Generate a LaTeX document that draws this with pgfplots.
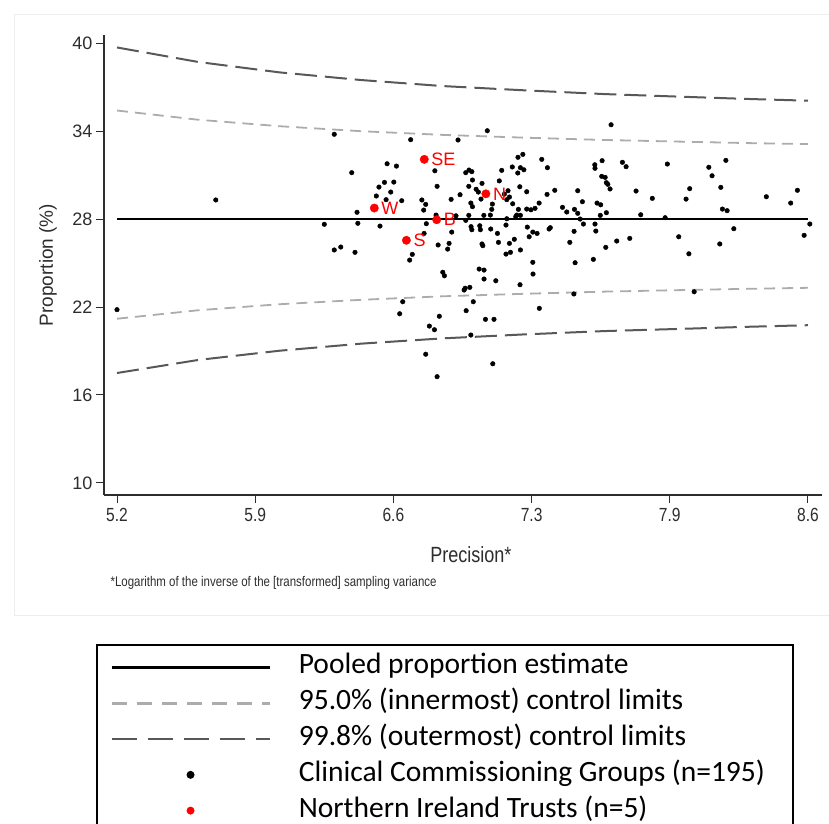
\documentclass[border=0pt]{standalone}
\usepackage{fontspec}
\setmainfont{Liberation Sans}
\newfontfamily\narrowfont{Liberation Sans}[FakeStretch=0.82]
\newfontfamily\legendfont{Carlito}
\usepackage{pgfplots}
\usepackage{pgfplotstable}
\pgfplotsset{compat=1.18}

\definecolor{cilight}{RGB}{172,172,172}
\definecolor{cidark}{RGB}{88,88,88}
\definecolor{nired}{RGB}{255,0,0}
\definecolor{axisgray}{RGB}{45,45,45}

% funnel limits
\pgfplotstableread{
x     up95   lo95   up998  lo998
5.2   35.40  21.20  39.70  17.50
5.6   34.77  21.78  38.71  18.39
6.0   34.33  22.19  38.00  19.02
6.4   33.99  22.49  37.48  19.50
6.8   33.74  22.73  37.07  19.86
7.2   33.55  22.90  36.78  20.13
7.6   33.39  23.05  36.52  20.36
8.0   33.27  23.16  36.33  20.52
8.3   33.18  23.24  36.19  20.65
8.6   33.11  23.31  36.07  20.76
}\limits

% Northern Ireland trusts
\pgfplotstableread{
x      y      lab
6.712  32.07  SE
6.466  28.75  W
6.773  27.95  B
6.624  26.55  S
7.015  29.72  N
}\trusts

% Clinical Commissioning Groups
\pgfplotstableread{
x      y
5.200  21.82
5.686  29.30
6.220  27.64
6.269  33.78
6.269  25.89
6.301  26.09
6.355  31.16
6.371  25.73
6.381  28.46
6.385  27.71
6.476  29.57
6.489  30.18
6.494  27.52
6.516  30.50
6.524  29.32
6.529  31.77
6.547  29.84
6.562  30.52
6.575  31.61
6.591  21.54
6.601  29.25
6.606  22.36
6.640  25.20
6.645  33.41
6.653  25.59
6.700  29.30
6.709  28.61
6.711  27.02
6.719  29.00
6.719  18.78
6.722  27.68
6.737  20.70
6.762  20.45
6.764  31.29
6.770  28.27
6.775  30.23
6.775  17.25
6.780  26.23
6.786  21.37
6.803  24.37
6.811  24.13
6.827  25.95
6.834  26.34
6.844  29.34
6.847  27.11
6.868  28.22
6.878  33.39
6.888  29.66
6.908  23.16
6.913  23.28
6.916  31.16
6.916  27.91
6.918  21.75
6.931  30.23
6.931  28.25
6.932  31.34
6.936  23.34
6.941  29.09
6.941  20.09
6.942  27.48
6.946  31.23
6.946  27.27
6.949  30.66
6.949  28.84
6.953  22.36
6.967  30.03
6.978  29.84
6.982  24.59
6.985  27.54
6.988  27.27
6.991  29.36
6.996  30.43
6.996  26.30
7.000  26.18
7.005  28.25
7.006  24.52
7.006  23.91
7.013  21.16
7.022  34.02
7.037  28.27
7.039  27.32
7.044  28.66
7.047  29.02
7.049  18.13
7.055  21.16
7.064  23.79
7.072  27.02
7.077  26.41
7.081  30.60
7.093  31.32
7.106  29.70
7.114  27.59
7.114  25.61
7.118  29.32
7.118  28.02
7.124  29.93
7.131  29.50
7.131  26.34
7.136  25.73
7.145  31.55
7.147  29.04
7.155  26.62
7.162  28.16
7.167  28.27
7.172  31.14
7.173  32.21
7.175  28.66
7.182  30.20
7.183  23.52
7.185  31.50
7.185  28.25
7.185  25.89
7.197  32.41
7.202  31.36
7.216  29.86
7.216  28.68
7.219  27.45
7.228  26.79
7.237  28.63
7.246  27.11
7.246  25.05
7.247  24.25
7.257  28.73
7.267  27.02
7.277  29.09
7.278  21.91
7.290  32.07
7.316  29.68
7.318  31.50
7.326  27.32
7.332  27.41
7.354  29.96
7.392  28.80
7.413  28.48
7.428  26.41
7.448  22.89
7.449  27.16
7.451  28.66
7.454  25.02
7.467  29.93
7.467  28.39
7.479  28.00
7.490  29.18
7.495  27.66
7.544  25.25
7.551  31.70
7.552  31.46
7.552  27.66
7.556  27.18
7.562  29.09
7.578  28.25
7.580  28.97
7.585  30.91
7.587  31.98
7.602  30.84
7.605  26.07
7.608  30.48
7.608  28.43
7.615  30.37
7.626  30.05
7.631  34.43
7.659  26.50
7.687  31.87
7.705  31.57
7.723  26.68
7.754  29.91
7.777  28.29
7.834  29.41
7.897  28.09
7.908  31.75
7.964  26.79
8.000  29.36
8.014  25.63
8.018  30.07
8.040  23.04
8.112  31.53
8.128  30.95
8.166  26.30
8.171  30.16
8.179  28.68
8.196  32.00
8.202  28.57
8.235  27.34
8.395  29.52
8.515  29.09
8.548  29.96
8.581  26.89
8.609  27.66
}\ccg

\begin{document}
\begin{tikzpicture}
\useasboundingbox (0pt,0pt) rectangle (829pt,823pt);
% faint panel behind the chart
\draw[black!7, line width=1pt] (14pt,208pt) rectangle (840pt,808pt);

\begin{axis}[
    at={(104pt,328pt)}, anchor=south west,
    scale only axis, width=718pt, height=460pt,
    xmin=5.136, xmax=8.669, ymin=9.18, ymax=40.55,
    clip=false,
    axis x line=bottom, axis y line=left,
    axis line style={-, axisgray, line width=1.2pt},
    xtick={5.2,5.88,6.56,7.24,7.92,8.6},
    xticklabels={5.2,5.9,6.6,7.3,7.9,8.6},
    ytick={10,16,22,28,34,40},
    tick align=outside, major tick length=8pt,
    tick style={axisgray, line width=1pt},
    /pgf/number format/assume math mode=true,
    xticklabel style={font=\narrowfont\fontsize{19}{22}\selectfont, text=axisgray, yshift=-2pt},
    yticklabel style={font=\fontsize{18}{22}\selectfont, text=axisgray},
    xlabel={Precision*},
    xlabel style={font=\narrowfont\fontsize{22}{26}\selectfont, text=axisgray,
        at={(axis description cs:0.511,-0.13)}, anchor=center},
    ylabel={Proportion (\%)},
    ylabel style={font=\fontsize{19}{22}\selectfont, text=axisgray,
        at={(axis description cs:-0.078,0.5)}, anchor=center},
    legend style={at={(axis description cs:0.0084,-0.3355)}, anchor=north west,
        draw=none, fill=none, inner sep=0pt, row sep=0pt,
        font=\legendfont\fontsize{29.5}{35}\selectfont,
        nodes={inner ysep=3.4pt, inner xsep=0pt, text height=21pt, text depth=8pt},
        /tikz/every odd column/.append style={column sep=28pt}},
    legend cell align=left,
]
\addplot[black, line width=1.6pt,
    legend image code/.code={\draw[black, line width=2.6pt] (0pt,0pt) -- (158pt,0pt);}]
    coordinates {(5.2,28.0) (8.6,28.0)};
\addlegendentry{Pooled proportion estimate}

\addplot[cilight, line width=1.8pt, dash pattern=on 11pt off 7pt,
    legend image code/.code={\draw[cilight, line width=2.6pt, dash pattern=on 15pt off 10pt] (0pt,0pt) -- (158pt,0pt);}]
    table[x=x, y=up95] {\limits};
\addlegendentry{95.0\% (innermost) control limits}
\addplot[cilight, line width=1.8pt, dash pattern=on 11pt off 7pt, forget plot]
    table[x=x, y=lo95] {\limits};

\addplot[cidark, line width=2pt, dash pattern=on 22pt off 8pt,
    legend image code/.code={\draw[cidark, line width=2.6pt, dash pattern=on 25pt off 11pt] (0pt,0pt) -- (158pt,0pt);}]
    table[x=x, y=up998] {\limits};
\addlegendentry{99.8\% (outermost) control limits}
\addplot[cidark, line width=2pt, dash pattern=on 22pt off 8pt, forget plot]
    table[x=x, y=lo998] {\limits};

\addplot[only marks, mark=*, mark size=2.3pt, black, mark options={draw=black, fill=black},
    legend image code/.code={\path[draw=none] (0pt,0pt) -- (158pt,0pt); \fill[black, draw=none] (79pt,0pt) circle (4pt);}]
    table[x=x, y=y] {\ccg};
\addlegendentry{Clinical Commissioning Groups (n=195)}

\addplot[only marks, mark=*, mark size=4.2pt, nired, mark options={draw=nired, fill=nired},
    nodes near coords, point meta=explicit symbolic,
    every node near coord/.style={anchor=west, xshift=7pt, inner sep=0pt,
        font=\fontsize{18}{20}\selectfont, text=nired},
    legend image code/.code={\path[draw=none] (0pt,0pt) -- (158pt,0pt); \fill[nired, draw=none] (79pt,0pt) circle (4pt);}]
    table[x=x, y=y, meta=lab] {\trusts};
\addlegendentry{Northern Ireland Trusts (n=5)}
\end{axis}

\node[anchor=west, font=\narrowfont\fontsize{14}{16}\selectfont, text=axisgray] at (107pt,240pt)
    {*Logarithm of the inverse of the [transformed] sampling variance};

% legend frame, cut at the bottom like the reference
\draw[black, line width=2pt] (97pt,-5pt) -- (97pt,178pt) -- (793pt,178pt) -- (793pt,-5pt);
\end{tikzpicture}
\end{document}
